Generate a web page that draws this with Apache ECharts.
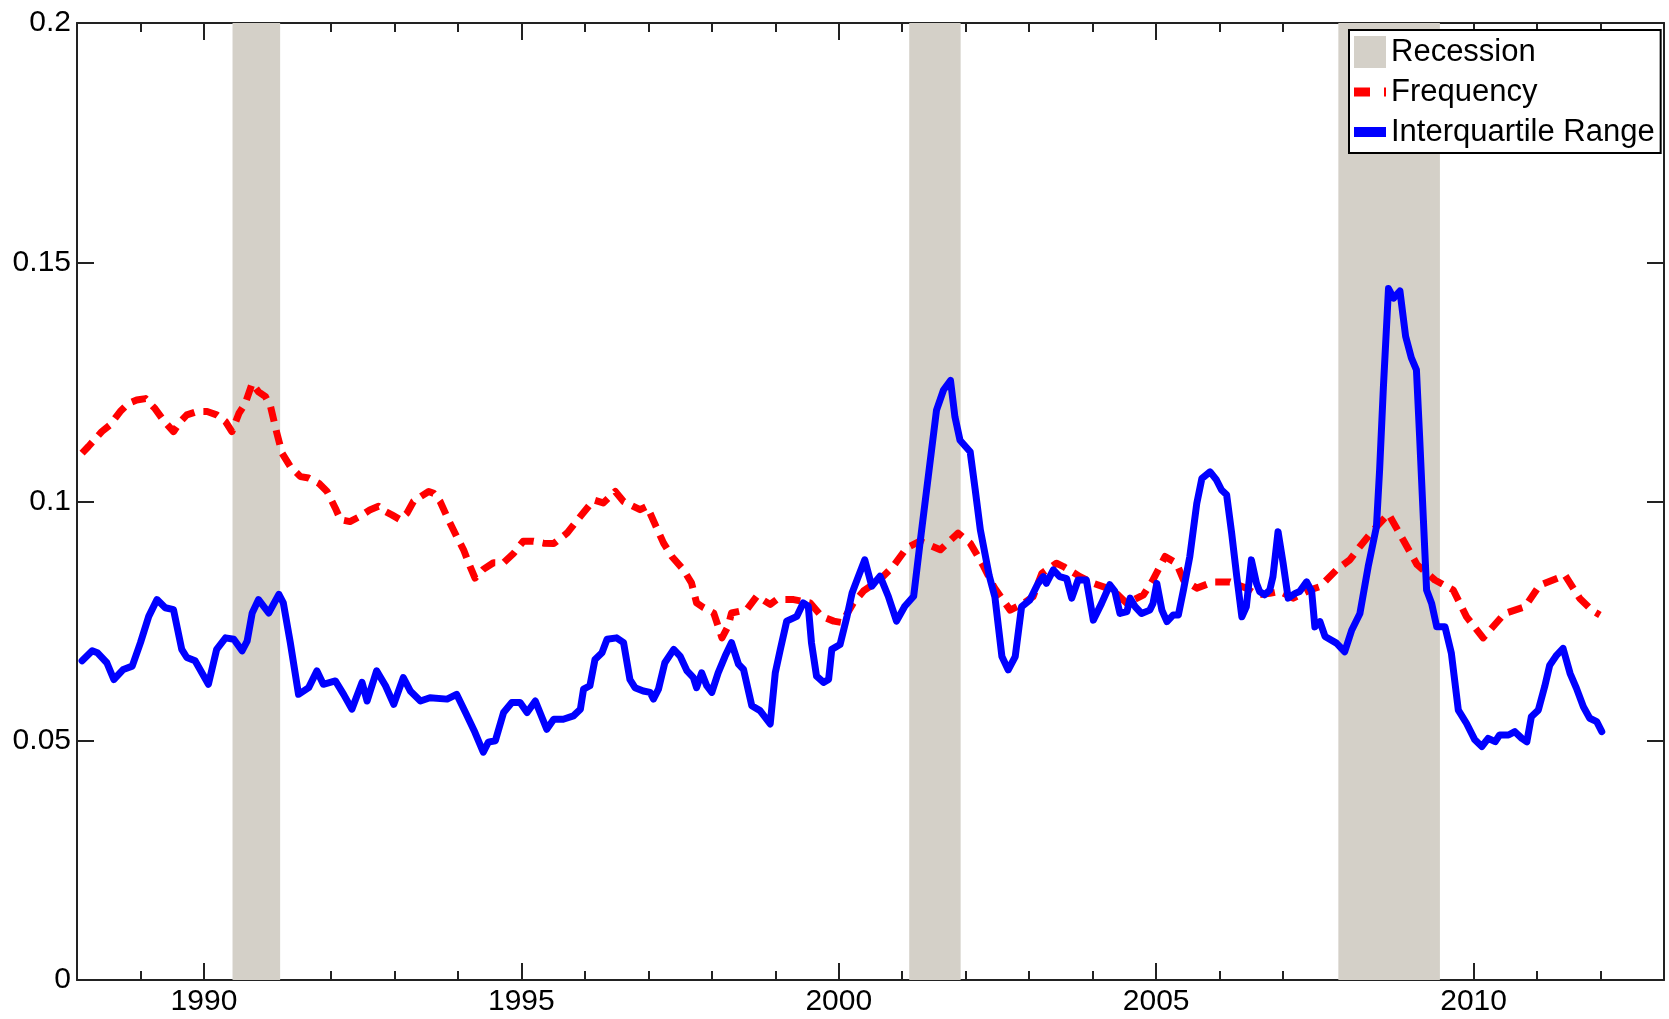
<!DOCTYPE html>
<html>
<head>
<meta charset="utf-8">
<script src="https://cdn.jsdelivr.net/npm/echarts@6/dist/echarts.min.js"></script>
<style>
  html, body { margin: 0; padding: 0; background: #fff; }
  #chart { width: 1669px; height: 1019px; }
</style>
</head>
<body>
<div id="chart"></div>
<script>
// ---- data ----
const recessionStarts = [1990.45, 2001.11, 2007.87];
const recessionEnds   = [1991.20, 2001.92, 2009.47];

const labelYears = [1990, 1995, 2000, 2005, 2010];
const yTicks = [0, 0.05, 0.1, 0.15, 0.2];

const freqYears = [
  1988.08, 1988.18, 1988.39, 1988.52, 1988.68, 1988.81, 1988.94, 1989.08, 1989.23, 1989.36,
  1989.52, 1989.63, 1989.73, 1989.89, 1990.05, 1990.20, 1990.34, 1990.44, 1990.55, 1990.65,
  1990.76, 1990.86, 1990.97, 1991.05, 1991.15, 1991.23, 1991.36, 1991.52, 1991.65, 1991.81,
  1991.94, 1992.07, 1992.15, 1992.30, 1992.46, 1992.62, 1992.75, 1992.86, 1992.96, 1993.09,
  1993.20, 1993.30, 1993.41, 1993.54, 1993.62, 1993.72, 1993.85, 1993.98, 1994.09, 1994.19,
  1994.27, 1994.40, 1994.56, 1994.72, 1994.88, 1995.03, 1995.19, 1995.35, 1995.51, 1995.72,
  1995.93, 1996.14, 1996.29, 1996.48, 1996.61, 1996.87, 1996.98, 1997.11, 1997.24, 1997.37,
  1997.55, 1997.68, 1997.76, 1997.87, 1998.03, 1998.16, 1998.26, 1998.31, 1998.55, 1998.71,
  1998.92, 1999.02, 1999.29, 1999.55, 1999.73, 1999.92, 2000.05, 2000.23, 2000.39, 2000.65,
  2000.86, 2001.07, 2001.28, 2001.60, 2001.88, 2002.07, 2002.28, 2002.45, 2002.70, 2002.91,
  2003.06, 2003.20, 2003.43, 2003.54, 2003.80, 2004.01, 2004.32, 2004.54, 2004.80, 2004.95,
  2005.14, 2005.32, 2005.43, 2005.64, 2005.90, 2006.16, 2006.42, 2006.58, 2006.79, 2006.95,
  2007.16, 2007.42, 2007.58, 2007.84, 2008.05, 2008.21, 2008.42, 2008.66, 2008.89, 2009.11,
  2009.39, 2009.68, 2009.89, 2010.15, 2010.49, 2010.81, 2011.04, 2011.44, 2011.67, 2011.86,
  2011.99
];
const freqValues = [
  0.1101, 0.1115, 0.1146, 0.1160, 0.1188, 0.1205, 0.1212, 0.1215, 0.1194, 0.1170,
  0.1146, 0.1167, 0.1181, 0.1188, 0.1188, 0.1181, 0.1167, 0.1146, 0.1184, 0.1205,
  0.1247, 0.1229, 0.1219, 0.1198, 0.1142, 0.1101, 0.1073, 0.1052, 0.1049, 0.1038,
  0.1021, 0.0986, 0.0962, 0.0958, 0.0969, 0.0983, 0.0990, 0.0979, 0.0972, 0.0962,
  0.0976, 0.1000, 0.1010, 0.1021, 0.1017, 0.1000, 0.0962, 0.0927, 0.0899, 0.0865,
  0.0840, 0.0858, 0.0872, 0.0872, 0.0892, 0.0917, 0.0917, 0.0913, 0.0912, 0.0934,
  0.0969, 0.1003, 0.0997, 0.1021, 0.1000, 0.0983, 0.0990, 0.0951, 0.0913, 0.0885,
  0.0858, 0.0830, 0.0788, 0.0778, 0.0767, 0.0715, 0.0740, 0.0767, 0.0774, 0.0802,
  0.0785, 0.0795, 0.0795, 0.0788, 0.0760, 0.0750, 0.0747, 0.0788, 0.0813, 0.0837,
  0.0865, 0.0903, 0.0917, 0.0899, 0.0934, 0.0913, 0.0865, 0.0820, 0.0773, 0.0787,
  0.0801, 0.0850, 0.0871, 0.0864, 0.0843, 0.0829, 0.0815, 0.0787, 0.0805, 0.0836,
  0.0885, 0.0871, 0.0836, 0.0819, 0.0832, 0.0832, 0.0819, 0.0805, 0.0808, 0.0812,
  0.0798, 0.0815, 0.0822, 0.0857, 0.0878, 0.0906, 0.0940, 0.0974, 0.0920, 0.0868,
  0.0836, 0.0815, 0.0759, 0.0715, 0.0766, 0.0780, 0.0825, 0.0846, 0.0798, 0.0773,
  0.0763
];

const iqrYears = [
  1988.08, 1988.24, 1988.32, 1988.47, 1988.58, 1988.73, 1988.87, 1989.00, 1989.13, 1989.26,
  1989.39, 1989.52, 1989.65, 1989.73, 1989.86, 1990.07, 1990.20, 1990.34, 1990.47, 1990.60,
  1990.68, 1990.76, 1990.86, 1991.02, 1991.18, 1991.25, 1991.36, 1991.49, 1991.65, 1991.78,
  1991.88, 1992.07, 1992.20, 1992.33, 1992.49, 1992.57, 1992.72, 1992.86, 1992.99, 1993.14,
  1993.25, 1993.41, 1993.56, 1993.83, 1993.98, 1994.12, 1994.27, 1994.40, 1994.48, 1994.59,
  1994.72, 1994.85, 1994.98, 1995.09, 1995.22, 1995.40, 1995.51, 1995.66, 1995.82, 1995.93,
  1995.98, 1996.08, 1996.16, 1996.27, 1996.35, 1996.50, 1996.61, 1996.71, 1996.79, 1996.92,
  1997.03, 1997.08, 1997.16, 1997.26, 1997.40, 1997.50, 1997.61, 1997.71, 1997.76, 1997.84,
  1997.92, 1998.00, 1998.10, 1998.21, 1998.31, 1998.42, 1998.50, 1998.63, 1998.76, 1998.92,
  1999.00, 1999.08, 1999.18, 1999.34, 1999.44, 1999.52, 1999.57, 1999.65, 1999.76, 1999.84,
  1999.89, 2000.02, 2000.13, 2000.21, 2000.31, 2000.41, 2000.52, 2000.65, 2000.78, 2000.91,
  2001.04, 2001.18, 2001.28, 2001.41, 2001.54, 2001.65, 2001.76, 2001.83, 2001.91, 2002.07,
  2002.15, 2002.23, 2002.37, 2002.46, 2002.57, 2002.67, 2002.78, 2002.88, 2003.01, 2003.14,
  2003.22, 2003.27, 2003.38, 2003.48, 2003.59, 2003.67, 2003.77, 2003.90, 2004.01, 2004.14,
  2004.27, 2004.35, 2004.43, 2004.54, 2004.59, 2004.67, 2004.77, 2004.90, 2004.95, 2005.01,
  2005.09, 2005.17, 2005.27, 2005.35, 2005.43, 2005.53, 2005.64, 2005.72, 2005.85, 2005.95,
  2006.03, 2006.11, 2006.19, 2006.27, 2006.35, 2006.42, 2006.50, 2006.58, 2006.63, 2006.71,
  2006.79, 2006.84, 2006.92, 2007.00, 2007.08, 2007.19, 2007.26, 2007.37, 2007.45, 2007.50,
  2007.58, 2007.66, 2007.84, 2007.97, 2008.08, 2008.21, 2008.34, 2008.47, 2008.52, 2008.58,
  2008.66, 2008.74, 2008.84, 2008.93, 2009.02, 2009.10, 2009.15, 2009.21, 2009.26, 2009.34,
  2009.42, 2009.55, 2009.65, 2009.76, 2009.89, 2010.02, 2010.13, 2010.23, 2010.34, 2010.41,
  2010.55, 2010.65, 2010.76, 2010.84, 2010.91, 2011.02, 2011.12, 2011.20, 2011.31, 2011.41,
  2011.52, 2011.62, 2011.73, 2011.83, 2011.94, 2012.02
];
const iqrValues = [
  0.0667, 0.0688, 0.0684, 0.0663, 0.0628, 0.0649, 0.0656, 0.0705, 0.0760, 0.0795,
  0.0778, 0.0774, 0.0691, 0.0674, 0.0667, 0.0618, 0.0691, 0.0715, 0.0712, 0.0688,
  0.0708, 0.0767, 0.0795, 0.0767, 0.0806, 0.0788, 0.0705, 0.0597, 0.0611, 0.0646,
  0.0618, 0.0625, 0.0597, 0.0566, 0.0622, 0.0583, 0.0646, 0.0615, 0.0576, 0.0632,
  0.0604, 0.0583, 0.0590, 0.0587, 0.0597, 0.0559, 0.0517, 0.0476, 0.0497, 0.0500,
  0.0559, 0.0580, 0.0580, 0.0559, 0.0583, 0.0524, 0.0545, 0.0545, 0.0552, 0.0566,
  0.0608, 0.0615, 0.0670, 0.0684, 0.0712, 0.0715, 0.0705, 0.0628, 0.0611, 0.0604,
  0.0601, 0.0587, 0.0608, 0.0663, 0.0691, 0.0677, 0.0646, 0.0632, 0.0611, 0.0642,
  0.0615, 0.0601, 0.0642, 0.0677, 0.0705, 0.0660, 0.0649, 0.0573, 0.0563, 0.0535,
  0.0642, 0.0691, 0.0750, 0.0760, 0.0788, 0.0781, 0.0705, 0.0635, 0.0622, 0.0628,
  0.0691, 0.0701, 0.0760, 0.0809, 0.0844, 0.0878, 0.0823, 0.0844, 0.0802, 0.0750,
  0.0781, 0.0802, 0.0913, 0.1052, 0.1191, 0.1233, 0.1253, 0.1177, 0.1128, 0.1104,
  0.1024, 0.0941, 0.0845, 0.0800, 0.0676, 0.0648, 0.0676, 0.0780, 0.0794, 0.0829,
  0.0843, 0.0829, 0.0857, 0.0843, 0.0839, 0.0798, 0.0836, 0.0836, 0.0752, 0.0787,
  0.0826, 0.0812, 0.0766, 0.0770, 0.0798, 0.0780, 0.0766, 0.0773, 0.0787, 0.0829,
  0.0773, 0.0749, 0.0763, 0.0763, 0.0815, 0.0885, 0.0996, 0.1048, 0.1062, 0.1045,
  0.1024, 0.1014, 0.0933, 0.0843, 0.0759, 0.0780, 0.0878, 0.0829, 0.0812, 0.0805,
  0.0815, 0.0843, 0.0937, 0.0871, 0.0798, 0.0808, 0.0812, 0.0832, 0.0812, 0.0738,
  0.0749, 0.0718, 0.0704, 0.0686, 0.0731, 0.0766, 0.0864, 0.0947, 0.1066, 0.1240,
  0.1445, 0.1425, 0.1440, 0.1345, 0.1300, 0.1275, 0.1136, 0.0961, 0.0815, 0.0787,
  0.0738, 0.0738, 0.0683, 0.0564, 0.0536, 0.0502, 0.0488, 0.0505, 0.0498, 0.0512,
  0.0512, 0.0519, 0.0505, 0.0498, 0.0550, 0.0564, 0.0613, 0.0658, 0.0679, 0.0693,
  0.0641, 0.0610, 0.0571, 0.0547, 0.0540, 0.0519
];

// ---- chart ----
const FONT = 'Liberation Sans, Arial, sans-serif';
const AX = '#222';
const chart = echarts.init(document.getElementById('chart'), null, { renderer: 'canvas' });

function pairs(xs, ys) { return xs.map((x, i) => [x, ys[i]]); }

const xBase = { type: 'value', min: 1988, max: 2013, splitLine: { show: false } };
const option = {
  animation: false,
  backgroundColor: '#fff',
  grid: { left: 77, right: 5, top: 23, bottom: 39, containLabel: false },
  legend: {
    orient: 'vertical',
    left: 1349, top: 30,
    padding: [6, 6, 5, 5],
    borderColor: '#000', borderWidth: 2,
    backgroundColor: '#fff',
    itemWidth: 32, itemHeight: 32, itemGap: 8,
    selectedMode: false,
    textStyle: { fontSize: 31, color: '#000', fontFamily: FONT, lineHeight: 32 },
    data: [
      { name: 'Recession', icon: 'rect', itemStyle: { color: '#d4d0c8' } },
      { name: 'Frequency', icon: 'path://M0,0M32,32M0,11.5h16v9h-16zM30,11.5h2v9h-2z', itemStyle: { color: '#ff0000' } },
      { name: 'Interquartile Range', icon: 'path://M0,0M32,32M0,11h32v10h-32z', itemStyle: { color: '#0000ff' } }
    ]
  },
  xAxis: [
    Object.assign({}, xBase, {
      position: 'bottom',
      axisLine: { show: true, onZero: false, lineStyle: { color: AX, width: 2 } },
      axisTick: { show: true, inside: true, length: 17, customValues: labelYears, lineStyle: { color: AX, width: 2 } },
      axisLabel: { show: true, customValues: labelYears, fontSize: 30, color: '#000', fontFamily: FONT, margin: 7,
        formatter: v => String(Math.round(v)) }
    }),
    Object.assign({}, xBase, {
      position: 'bottom', interval: 1,
      axisLine: { show: false, onZero: false },
      axisTick: { show: true, inside: true, length: 9, lineStyle: { color: AX, width: 2 } },
      axisLabel: { show: false }
    }),
    Object.assign({}, xBase, {
      position: 'top',
      axisLine: { show: true, onZero: false, lineStyle: { color: AX, width: 2 } },
      axisTick: { show: true, inside: true, length: 17, customValues: labelYears, lineStyle: { color: AX, width: 2 } },
      axisLabel: { show: false }
    }),
    Object.assign({}, xBase, {
      position: 'top', interval: 1,
      axisLine: { show: false, onZero: false },
      axisTick: { show: true, inside: true, length: 9, lineStyle: { color: AX, width: 2 } },
      axisLabel: { show: false }
    })
  ],
  yAxis: [
    {
      type: 'value', min: 0, max: 0.2, interval: 0.05, position: 'left',
      splitLine: { show: false },
      axisLine: { show: true, onZero: false, lineStyle: { color: AX, width: 2 } },
      axisTick: { show: true, inside: true, length: 17, lineStyle: { color: AX, width: 2 } },
      axisLabel: { show: true, fontSize: 30, color: '#000', fontFamily: FONT, margin: 6,
        formatter: v => String(yTicks.find(t => Math.abs(t - v) < 1e-9) ?? v) }
    },
    {
      type: 'value', min: 0, max: 0.2, interval: 0.05, position: 'right',
      splitLine: { show: false },
      axisLine: { show: true, onZero: false, lineStyle: { color: AX, width: 2 } },
      axisTick: { show: true, inside: true, length: 17, lineStyle: { color: AX, width: 2 } },
      axisLabel: { show: false }
    }
  ],
  series: [
    {
      name: 'Recession', type: 'line', xAxisIndex: 0, yAxisIndex: 0,
      data: [], symbol: 'none', z: 1,
      itemStyle: { color: '#d4d0c8' },
      lineStyle: { color: '#d4d0c8' },
      markArea: {
        silent: true,
        itemStyle: { color: '#d4d0c8', opacity: 1 },
        data: recessionStarts.map((s, i) => [
          { xAxis: s, yAxis: 0 },
          { xAxis: recessionEnds[i], yAxis: 0.2 }
        ])
      }
    },
    {
      name: 'Frequency', type: 'line', xAxisIndex: 0, yAxisIndex: 0,
      data: pairs(freqYears, freqValues), symbol: 'none', z: 3,
      itemStyle: { color: '#ff0000' },
      lineStyle: { color: '#ff0000', width: 7, type: [15, 9], cap: 'butt', join: 'round' }
    },
    {
      name: 'Interquartile Range', type: 'line', xAxisIndex: 0, yAxisIndex: 0,
      data: pairs(iqrYears, iqrValues), symbol: 'none', z: 4,
      itemStyle: { color: '#0000ff' },
      lineStyle: { color: '#0000ff', width: 7, cap: 'round', join: 'round' }
    }
  ]
};
chart.setOption(option);
</script>
</body>
</html>
